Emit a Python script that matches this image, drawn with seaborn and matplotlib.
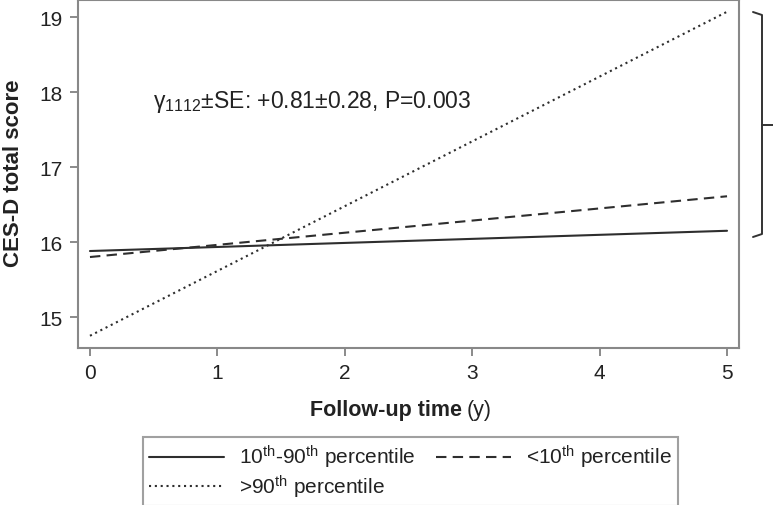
import matplotlib
matplotlib.use("Agg")
import matplotlib.pyplot as plt
import seaborn as sns
import pandas as pd
from matplotlib.lines import Line2D

# ---- data ----
time_years = [0, 5]
mid_group = [15.88, 16.15]     # 10th-90th percentile
low_group = [15.80, 16.61]     # <10th percentile
high_group = [14.75, 19.07]    # >90th percentile
group_labels = [r"10$^{\mathrm{th}}$-90$^{\mathrm{th}}$ percentile",
                r"<10$^{\mathrm{th}}$ percentile",
                r">90$^{\mathrm{th}}$ percentile"]
x_ticks = [0, 1, 2, 3, 4, 5]
y_ticks = [15, 16, 17, 18, 19]
annotation = r"γ$_{\mathrm{1112}}$±SE: +0.81±0.28, P=0.003"

sns.set_theme(style="white")
plt.rcParams["font.family"] = ["Liberation Sans", "DejaVu Sans"]
plt.rcParams["mathtext.fontset"] = "custom"
plt.rcParams["mathtext.rm"] = "Liberation Sans"
plt.rcParams["mathtext.it"] = "Liberation Sans:italic"
plt.rcParams["mathtext.bf"] = "Liberation Sans:bold"

df = pd.DataFrame({
    "time": time_years * 3,
    "score": mid_group + low_group + high_group,
    "group": [group_labels[0]] * 2 + [group_labels[1]] * 2 + [group_labels[2]] * 2,
})

fig = plt.figure(figsize=(7.73, 5.06), dpi=100)
ax = fig.add_axes([78 / 773, 1 - 349 / 506, (739 - 78) / 773, (349 - 1) / 506])

styles = {group_labels[0]: "-", group_labels[1]: (0, (5, 3)), group_labels[2]: (0, (1, 1.8))}
line_color = "#2e2e2e"
handles = {}
for g in group_labels:
    sub = df[df["group"] == g]
    sns.lineplot(data=sub, x="time", y="score", ax=ax, color=line_color,
                 linewidth=1.5, legend=False)
    ln = ax.get_lines()[-1]
    ln.set_linestyle(styles[g])
    handles[g] = Line2D([0], [0], color=line_color, lw=1.5, linestyle=styles[g])

ax.set_xlim(-0.094, 5.094)
ax.set_ylim(14.587, 19.227)
ax.set_xticks(x_ticks)
ax.set_yticks(y_ticks)
ax.tick_params(axis="both", which="both", direction="out", length=6, width=1.2,
               color="#777777", labelsize=15, labelcolor="#222222", pad=5,
               bottom=True, left=True)
for sp in ax.spines.values():
    sp.set_color("#888888")
    sp.set_linewidth(1.5)

ax.set_xlabel("")
ax.set_ylabel("")
fig.text(13.5 / 773, 1 - 173 / 506, "CES-D total score", rotation=90,
         ha="center", va="center", fontsize=16, fontweight="bold", color="#222222")

# x label: bold part + normal "(y)"
fig.text(462 / 773, 1 - 411 / 506, "Follow-up time", ha="right", va="center",
         fontsize=15.5, fontweight="bold", color="#222222")
fig.text(467 / 773, 1 - 411 / 506, "(y)", ha="left", va="center",
         fontsize=15.5, color="#222222")

ax.text(153 / 773, 1 - 102 / 506, annotation, transform=fig.transFigure,
        ha="left", va="center", fontsize=16.5, color="#222222")

# bracket to the right
bx = 762 / 773
def fy(p):
    return 1 - p / 506
for xs, ys in [([753 / 773, bx, bx, 753 / 773], [fy(13), fy(16), fy(235), fy(238)]),
               ([bx, 1.0], [fy(125.5), fy(125.5)])]:
    fig.add_artist(Line2D(xs, ys, transform=fig.transFigure, color="#333333", lw=1.4))

order = [group_labels[0], group_labels[2], group_labels[1]]
leg = fig.legend([handles[g] for g in order], order, ncol=2,
                 loc="upper left", bbox_to_anchor=(143 / 773, 1 - 438 / 506),
                 frameon=True, fancybox=False, edgecolor="#888888",
                 fontsize=15, handlelength=3.6, columnspacing=1.0,
                 handletextpad=0.7, labelspacing=0.1, borderpad=0.3,
                 borderaxespad=0)
leg.get_frame().set_linewidth(1.5)
for t in leg.get_texts():
    t.set_color("#222222")

fig.savefig("out.png", dpi=100)
